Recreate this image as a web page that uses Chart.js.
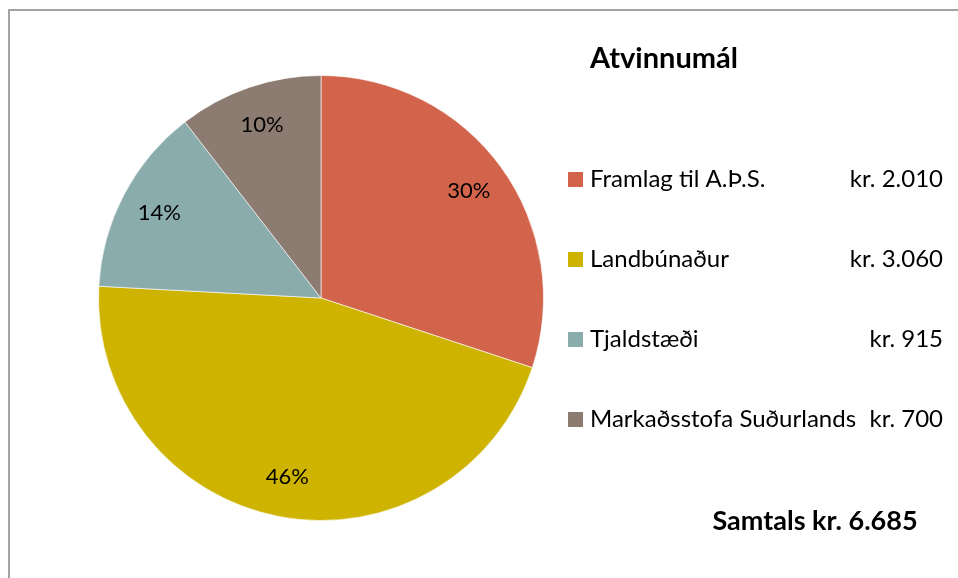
<!DOCTYPE html>
<html>
<head>
<meta charset="utf-8">
<script src="https://cdn.jsdelivr.net/npm/chart.js@4/dist/chart.umd.min.js"></script>
<style>
  html, body { margin: 0; padding: 0; background: #fff; overflow: hidden; }
  #frame { position: absolute; left: 8px; top: 9px; width: 1000px; height: 1000px; border: 2px solid #a3a3a3; }
  #wrap { position: absolute; left: 0; top: 0; width: 958px; height: 578px; }
</style>
</head>
<body>
<div id="frame"></div>
<div id="wrap"><canvas id="pie" width="958" height="578"></canvas></div>
<script>
const title = 'Atvinnumál';
const categories = ['Framlag til A.Þ.S.', 'Landbúnaður', 'Tjaldstæði', 'Markaðsstofa Suðurlands'];
const values = [2010, 3060, 915, 700];
const amountLabels = ['kr. 2.010', 'kr. 3.060', 'kr. 915', 'kr. 700'];
const totalLabel = 'Samtals kr. 6.685';
const colors = ['#D2644B', '#CEB400', '#8BACAD', '#8C7B70'];

const FONT = 'Lato, "Open Sans", sans-serif';

// percentage labels inside the slices
const sliceLabels = {
  id: 'sliceLabels',
  afterDatasetsDraw(chart) {
    const ctx = chart.ctx;
    const meta = chart.getDatasetMeta(0);
    const total = values.reduce((a, b) => a + b, 0);
    ctx.save();
    ctx.font = '22px ' + FONT;
    ctx.fillStyle = '#000';
    ctx.textAlign = 'center';
    ctx.textBaseline = 'middle';
    meta.data.forEach((arc, i) => {
      const a = (arc.startAngle + arc.endAngle) / 2;
      const r = arc.outerRadius * 0.82;
      const pct = Math.round(values[i] / total * 100) + '%';
      ctx.fillText(pct, arc.x + Math.cos(a) * r, arc.y + Math.sin(a) * r);
    });
    ctx.restore();
  }
};

// legend, title and total on the right
const sideText = {
  id: 'sideText',
  afterDraw(chart) {
    const ctx = chart.ctx;
    ctx.save();
    ctx.fillStyle = '#000';
    ctx.textBaseline = 'middle';
    ctx.font = 'bold 29px ' + FONT;
    ctx.textAlign = 'center';
    ctx.fillText(title, 664, 59);

    ctx.font = '24px ' + FONT;
    categories.forEach((c, i) => {
      const y = 179 + i * 80;
      ctx.fillStyle = colors[i];
      ctx.fillRect(568, y - 7, 15, 15);
      ctx.fillStyle = '#000';
      ctx.textAlign = 'left';
      ctx.fillText(c, 590, y);
      ctx.textAlign = 'right';
      ctx.fillText(amountLabels[i], 943, y);
    });

    ctx.font = 'bold 27px ' + FONT;
    ctx.textAlign = 'center';
    ctx.fillText(totalLabel, 815, 521);
    ctx.restore();
  }
};

new Chart(document.getElementById('pie'), {
  type: 'pie',
  data: {
    labels: categories,
    datasets: [{
      data: values,
      backgroundColor: colors,
      borderColor: 'rgba(255,255,255,0.6)',
      borderWidth: 1
    }]
  },
  options: {
    responsive: false,
    animation: false,
    layout: { padding: { left: 98, right: 414, top: 75, bottom: 57 } },
    plugins: {
      legend: { display: false },
      tooltip: { enabled: false }
    }
  },
  plugins: [sliceLabels, sideText]
});
</script>
</body>
</html>
